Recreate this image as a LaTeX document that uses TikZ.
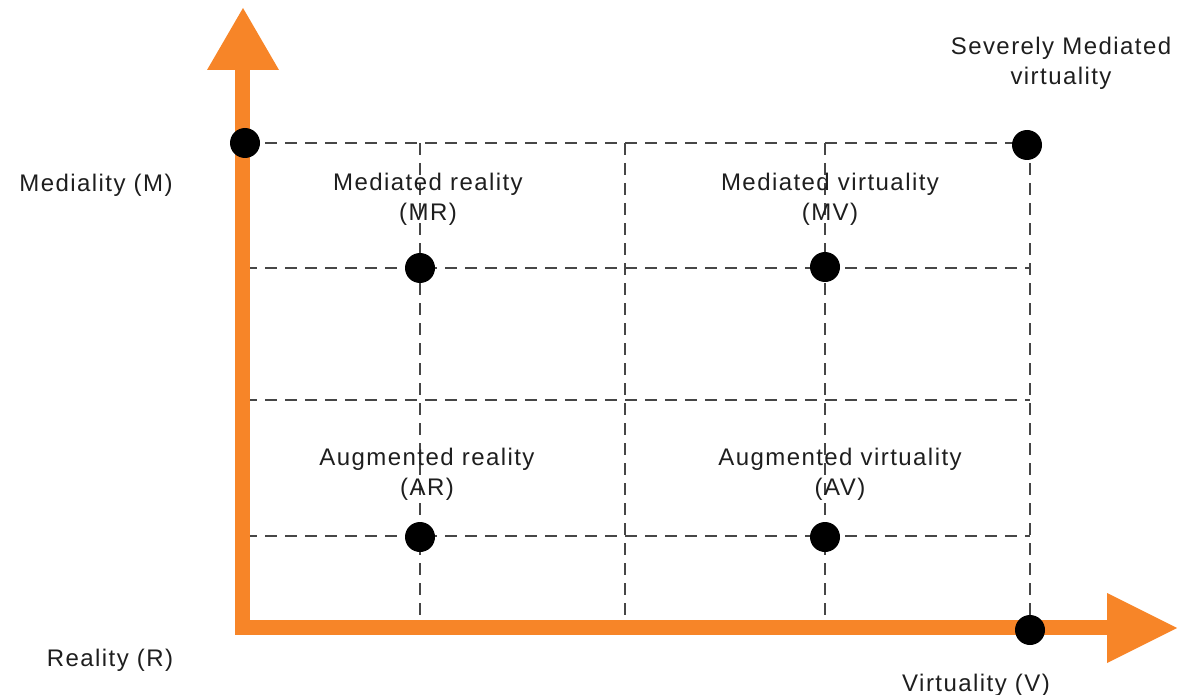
\documentclass[tikz,border=0pt]{standalone}
\usepackage{fontspec}
\setmainfont{Liberation Sans}[LetterSpace=6]
\definecolor{axisorange}{RGB}{247,133,40}
\definecolor{txt}{RGB}{30,30,30}
\definecolor{gridc}{RGB}{70,70,70}
\begin{document}
\begin{tikzpicture}[x=1pt,y=-1pt,
  dot/.style={circle,fill=black,minimum size=30pt,inner sep=0pt},
  gridline/.style={draw=gridc,line width=2pt,dash pattern=on 12pt off 8pt},
  lbl/.style={text=txt,font=\fontsize{24}{30}\selectfont,align=center,inner sep=0pt},
  axisline/.style={draw=axisorange,line width=15pt,line join=miter},
  head/.style={fill=axisorange}]
\useasboundingbox (0,0) rectangle (1180,695);

% grid coordinates
\foreach \n/\y in {a/143,b/268,c/400,d/536}{
  \coordinate (h\n L) at (245,\y);
  \coordinate (h\n R) at (1030,\y);
}
\foreach \n/\x in {a/420,b/625,c/825,d/1030}{
  \coordinate (v\n T) at (\x,143);
  \coordinate (v\n B) at (\x,622);
}
\foreach \n in {a,b,c,d}{
  \draw[gridline] (h\n L) -- (h\n R);
  \draw[gridline] (v\n T) -- (v\n B);
}

% axes
\coordinate (O) at (242.5,627.5);
\coordinate (Ytop) at (242.5,68);
\coordinate (Xend) at (1109,627.5);
\draw[axisline] (Ytop) -- (O) -- (Xend);
\fill[head] (207,70) -- (243,8) -- (279,70) -- cycle;
\fill[head] (1107,593) -- (1177,628) -- (1107,663) -- cycle;

% dots
\node[dot] (m) at (245,143) {};
\node[dot] (smvd) at (1027,145) {};
\node[dot] (mrd) at (420,268) {};
\node[dot] (mvd) at (825,267) {};
\node[dot] (ard) at (420,537) {};
\node[dot] (avd) at (825,537) {};
\node[dot] (vd) at (1030,630) {};

% labels
\node[lbl] (mrl) at (428,199) {Mediated reality\\(MR)};
\node[lbl] (mvl) at (830,199) {Mediated virtuality\\(MV)};
\node[lbl] (arl) at (427,474) {Augmented reality\\(AR)};
\node[lbl] (avl) at (840,474) {Augmented virtuality\\(AV)};
\node[lbl] (smvl) at (1061,63) {Severely Mediated\\virtuality};
\node[lbl] (ml) at (96,185) {Mediality (M)};
\node[lbl] (rl) at (110,660) {Reality (R)};
\node[lbl] (vl) at (976,685) {Virtuality (V)};
\end{tikzpicture}
\end{document}
